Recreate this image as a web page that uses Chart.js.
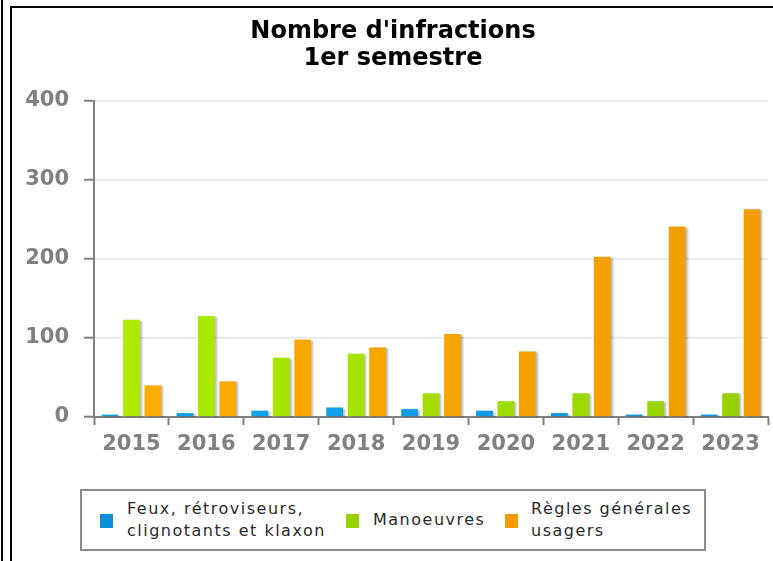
<!DOCTYPE html>
<html>
<head>
<meta charset="utf-8">
<script src="https://cdn.jsdelivr.net/npm/chart.js@4.4.1/dist/chart.umd.min.js"></script>
<style>
  html, body { margin: 0; padding: 0; background: #fff; }
  #wrap { position: relative; width: 773px; height: 561px; overflow: hidden; background: #fff; }
  #c { position: absolute; left: 0; top: 0; }
  .frameA { position: absolute; left: 1px; top: 0; width: 0; height: 561px; border-left: 2px solid #000; }
  .frameB { position: absolute; left: 10px; top: 6px; width: 800px; height: 600px; border-left: 2px solid #000; border-top: 2px solid #000; }
  #legend { position: absolute; left: 80px; top: 489px; width: 626px; height: 62px; box-sizing: border-box;
            border: 2px solid #8c8c8c; background: #fff; }
  .lg-sw { position: absolute; width: 13px; height: 14px; top: 23px; }
  .lg-tx { position: absolute; top: 50%; transform: translateY(-50%); font-family: 'DejaVu Sans', sans-serif;
           font-size: 16px; letter-spacing: 1.5px; line-height: 22px; color: #2a2a2a; white-space: nowrap; }
</style>
</head>
<body>
<div id="wrap">
  <canvas id="c" width="773" height="561"></canvas>
  <div class="frameA"></div>
  <div class="frameB"></div>
  <div id="legend"></div>
</div>
<script>
// ---- data ----
const titleLines = ["Nombre d'infractions", "1er semestre"];
const categories = ['2015', '2016', '2017', '2018', '2019', '2020', '2021', '2022', '2023'];
const feux = [3, 5, 8, 12, 10, 8, 5, 3, 3];
const manoeuvres = [123, 128, 75, 80, 30, 20, 30, 20, 30];
const regles = [40, 45, 98, 88, 105, 83, 203, 241, 263];
const yTicks = [0, 100, 200, 300, 400];
const seriesNames = [
  ['Feux, rétroviseurs,', 'clignotants et klaxon'],
  ['Manoeuvres'],
  ['Règles générales', 'usagers']
];

// ---- styles ----
const colors = [
  ['#12a6ee', '#0a92dc'],
  ['#aeee00', '#96d000'],
  ['#ffad00', '#f09c00']
];
const legendColors = ['#0a8fd8', '#99d100', '#f39c00'];
const legendSwatchX = [18, 264, 423];
const legendTextX = [45, 291, 449];

function gradientFor(i) {
  return function (ctx) {
    const chart = ctx.chart;
    const area = chart.chartArea;
    if (!area) return colors[i][0];
    const g = chart.ctx.createLinearGradient(area.left, 0, area.right, 0);
    g.addColorStop(0, colors[i][0]);
    g.addColorStop(1, colors[i][1]);
    return g;
  };
}

const seriesValues = [feux, manoeuvres, regles];
const datasets = seriesValues.map((vals, i) => ({
  label: seriesNames[i].join(' '),
  data: vals,
  backgroundColor: gradientFor(i),
  borderWidth: 0,
  categoryPercentage: 0.86,
  barPercentage: 0.78
}));

const shadowPlugin = {
  id: 'barShadow',
  beforeDatasetsDraw(chart) {
    const c = chart.ctx;
    c.save();
    c.shadowColor = 'rgba(0,0,0,0.28)';
    c.shadowOffsetX = 2;
    c.shadowOffsetY = 1;
    c.shadowBlur = 2;
  },
  afterDatasetsDraw(chart) {
    chart.ctx.restore();
  }
};

const titlePlugin = {
  id: 'customTitle',
  afterDraw(chart) {
    const c = chart.ctx;
    c.save();
    c.font = "bold 24px 'DejaVu Sans'";
    c.fillStyle = '#000';
    c.textAlign = 'center';
    c.textBaseline = 'alphabetic';
    titleLines.forEach((t, i) => c.fillText(t, 393, 38 + i * 27));
    c.restore();
  }
};

new Chart(document.getElementById('c'), {
  type: 'bar',
  data: { labels: categories, datasets },
  plugins: [shadowPlugin, titlePlugin],
  options: {
    responsive: false,
    animation: false,
    events: [],
    layout: { padding: { top: 101, right: 5, left: 0, bottom: 0 } },
    plugins: { legend: { display: false }, title: { display: false }, tooltip: { enabled: false } },
    scales: {
      x: {
        afterFit(s) { s.height = 144; },
        grid: { drawOnChartArea: false, tickLength: 8, tickColor: '#808080', tickWidth: 2, color: '#808080' },
        border: { color: '#808080', width: 2 },
        ticks: { color: '#808080', font: { family: 'DejaVu Sans', size: 21, weight: 'bold' }, padding: 7, maxRotation: 0 }
      },
      y: {
        min: 0, max: 400,
        afterFit(s) { s.width = 94; },
        afterBuildTicks(s) { s.ticks = yTicks.map(v => ({ value: v })); },
        grid: { color: '#e6e6e6', lineWidth: 1.5, tickLength: 10, tickColor: '#808080', tickWidth: 2 },
        border: { color: '#808080', width: 2 },
        ticks: { color: '#808080', font: { family: 'DejaVu Sans', size: 21, weight: 'bold' }, padding: 15 }
      }
    }
  }
});

// ---- HTML legend ----
const legend = document.getElementById('legend');
seriesNames.forEach((lines, i) => {
  const sw = document.createElement('div');
  sw.className = 'lg-sw';
  sw.style.left = legendSwatchX[i] + 'px';
  sw.style.background = legendColors[i];
  legend.appendChild(sw);
  const tx = document.createElement('div');
  tx.className = 'lg-tx';
  tx.style.left = legendTextX[i] + 'px';
  tx.innerHTML = lines.join('<br>');
  legend.appendChild(tx);
});
</script>
</body>
</html>
